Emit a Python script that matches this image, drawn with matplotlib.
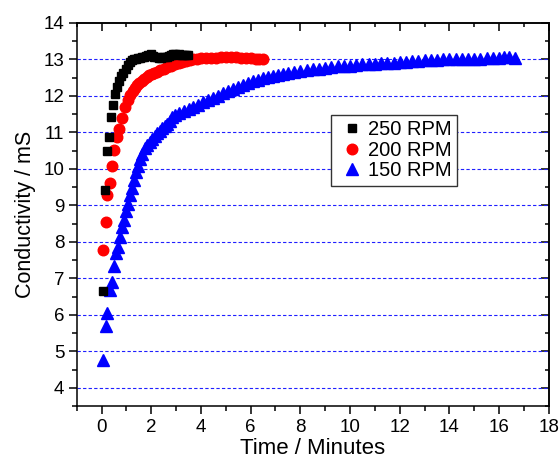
import numpy as np
import matplotlib
matplotlib.use("Agg")
import matplotlib.pyplot as plt
from matplotlib.ticker import MultipleLocator

plt.rcParams['font.family'] = ['Liberation Sans', 'DejaVu Sans']

# 250 RPM
t_250 = [0.05, 0.13, 0.22, 0.30, 0.38, 0.47, 0.55, 0.63, 0.72, 0.80, 0.88, 0.97,
         1.05, 1.13, 1.22, 1.30, 1.38, 1.47, 1.55, 1.63, 1.72, 1.80, 1.88, 1.97,
         2.05, 2.13, 2.22, 2.30, 2.38, 2.47, 2.55, 2.63, 2.72, 2.80, 2.88, 2.97,
         3.05, 3.13, 3.22, 3.30, 3.38, 3.47]
c_250 = [6.65, 9.43, 10.49, 10.87, 11.42, 11.74, 12.06, 12.25, 12.42, 12.55, 12.63, 12.75,
         12.85, 12.92, 12.97, 13.00, 13.02, 13.04, 13.05, 13.06, 13.06, 13.08, 13.13, 13.15,
         13.10, 13.06, 13.06, 13.05, 13.05, 13.06, 13.06, 13.07, 13.08, 13.13, 13.14, 13.14,
         13.13, 13.14, 13.13, 13.12, 13.12, 13.11]

# 200 RPM
t_200 = [0.07, 0.18, 0.23, 0.34, 0.41, 0.50, 0.61, 0.72, 0.81, 0.95, 1.05, 1.15,
         1.25, 1.34, 1.42, 1.52, 1.62, 1.72, 1.82, 1.92, 2.02, 2.12, 2.22, 2.35,
         2.50, 2.65, 2.80, 2.95, 3.10, 3.25, 3.40, 3.55, 3.70, 3.85, 4.00, 4.20,
         4.40, 4.60, 4.80, 5.00, 5.20, 5.40, 5.60, 5.80, 6.00, 6.20, 6.35, 6.50]
c_200 = [7.77, 8.54, 9.27, 9.61, 10.08, 10.51, 10.87, 11.10, 11.38, 11.70, 11.88, 12.02,
         12.12, 12.22, 12.29, 12.35, 12.41, 12.47, 12.52, 12.56, 12.60, 12.63, 12.66, 12.70,
         12.74, 12.78, 12.82, 12.86, 12.90, 12.93, 12.96, 12.99, 13.00, 13.02, 13.03, 13.04,
         13.05, 13.05, 13.06, 13.06, 13.06, 13.06, 13.05, 13.04, 13.03, 13.02, 13.01, 13.00]

# 150 RPM
t_150 = [0.07, 0.17, 0.23, 0.34, 0.41, 0.50, 0.58, 0.66, 0.74, 0.82, 0.90, 0.98,
         1.06, 1.14, 1.22, 1.30, 1.38, 1.46, 1.55, 1.64, 1.74, 1.84, 1.94, 2.04,
         2.14, 2.24, 2.34, 2.44, 2.54, 2.64, 2.74, 2.84, 2.94, 3.10, 3.30, 3.50,
         3.70, 3.90, 4.10, 4.30, 4.50, 4.70, 4.90, 5.10, 5.30, 5.50, 5.70, 5.90,
         6.10, 6.30, 6.50, 6.70, 6.90, 7.10, 7.30, 7.50, 7.75, 8.00, 8.25, 8.50,
         8.75, 9.00, 9.25, 9.50, 9.75, 10.00, 10.25, 10.50, 10.75, 11.00, 11.25, 11.50,
         11.75, 12.00, 12.25, 12.50, 12.75, 13.00, 13.25, 13.50, 13.75, 14.00, 14.25, 14.50,
         14.75, 15.00, 15.25, 15.50, 15.75, 16.00, 16.20, 16.40, 16.63]
c_150 = [4.75, 5.68, 6.05, 6.67, 6.90, 7.35, 7.68, 7.86, 8.13, 8.40, 8.60, 8.84,
         9.05, 9.27, 9.48, 9.70, 9.90, 10.08, 10.28, 10.42, 10.56, 10.65, 10.74, 10.82,
         10.90, 10.98, 11.05, 11.12, 11.18, 11.24, 11.30, 11.42, 11.48, 11.52, 11.58, 11.64,
         11.70, 11.76, 11.83, 11.89, 11.95, 12.01, 12.07, 12.13, 12.19, 12.25, 12.30, 12.35,
         12.40, 12.44, 12.48, 12.51, 12.54, 12.57, 12.60, 12.62, 12.65, 12.68, 12.70, 12.73,
         12.75, 12.77, 12.79, 12.81, 12.82, 12.83, 12.85, 12.86, 12.87, 12.88, 12.89, 12.90,
         12.91, 12.92, 12.93, 12.95, 12.96, 12.97, 12.98, 12.99, 13.00, 13.00, 13.01, 13.01,
         13.02, 13.02, 13.02, 13.03, 13.03, 13.03, 13.07, 13.07, 13.03]

fig = plt.figure(figsize=(5.6, 4.58), dpi=100)
ax = fig.add_axes([0.137, 0.1135, 0.843, 0.8365])

# dashed blue grid at the major y ticks
for g in range(4, 14):
    ax.axhline(g, color='#2020ff', lw=0.8, ls=(0, (3, 2)), zorder=1)

ax.plot(t_250, c_250, 's', color='black', ms=6.2, mec='black', label='250 RPM', zorder=4)
ax.plot(t_200, c_200, 'o', color='red', ms=7.6, mec='red', label='200 RPM', zorder=3)
ax.plot(t_150, c_150, '^', color='blue', ms=8, mec='blue', label='150 RPM', zorder=2)

ax.set_xlim(-1, 18)
ax.set_ylim(3.5, 14)
ax.xaxis.set_major_locator(MultipleLocator(2))
ax.xaxis.set_minor_locator(MultipleLocator(1))
ax.yaxis.set_major_locator(MultipleLocator(1))
ax.yaxis.set_minor_locator(MultipleLocator(0.5))
ax.tick_params(which='major', direction='out', length=6, width=1.1, labelsize=13.5, pad=3)
ax.tick_params(which='minor', direction='out', length=3.5, width=1.1)

# mirrored ticks pointing inward on top and right
top = ax.secondary_xaxis('top')
top.xaxis.set_major_locator(MultipleLocator(2))
top.xaxis.set_minor_locator(MultipleLocator(1))
top.tick_params(which='major', direction='in', length=5.5, width=1.1, labeltop=False)
top.tick_params(which='minor', direction='in', length=3, width=1.1)
right = ax.secondary_yaxis('right')
right.yaxis.set_major_locator(MultipleLocator(1))
right.yaxis.set_minor_locator(MultipleLocator(0.5))
right.tick_params(which='major', direction='in', length=5.5, width=1.1, labelright=False)
right.tick_params(which='minor', direction='in', length=3, width=1.1)
for sp in ax.spines.values():
    sp.set_linewidth(1.1)
top.spines['top'].set_linewidth(1.1)
right.spines['right'].set_linewidth(1.1)

ax.set_xlabel('Time / Minutes', fontsize=16, labelpad=2)
ax.set_ylabel('Conductivity / mS', fontsize=15.5, labelpad=5)

leg = ax.legend(loc='upper left', bbox_to_anchor=(0.538, 0.759), borderaxespad=0,
                fontsize=14.5, handlelength=1.6, handletextpad=0.0, borderpad=0.25,
                labelspacing=0.08, fancybox=False, framealpha=1, edgecolor='#333333')
leg.get_frame().set_linewidth(1.0)

fig.savefig('out.png', dpi=100)
